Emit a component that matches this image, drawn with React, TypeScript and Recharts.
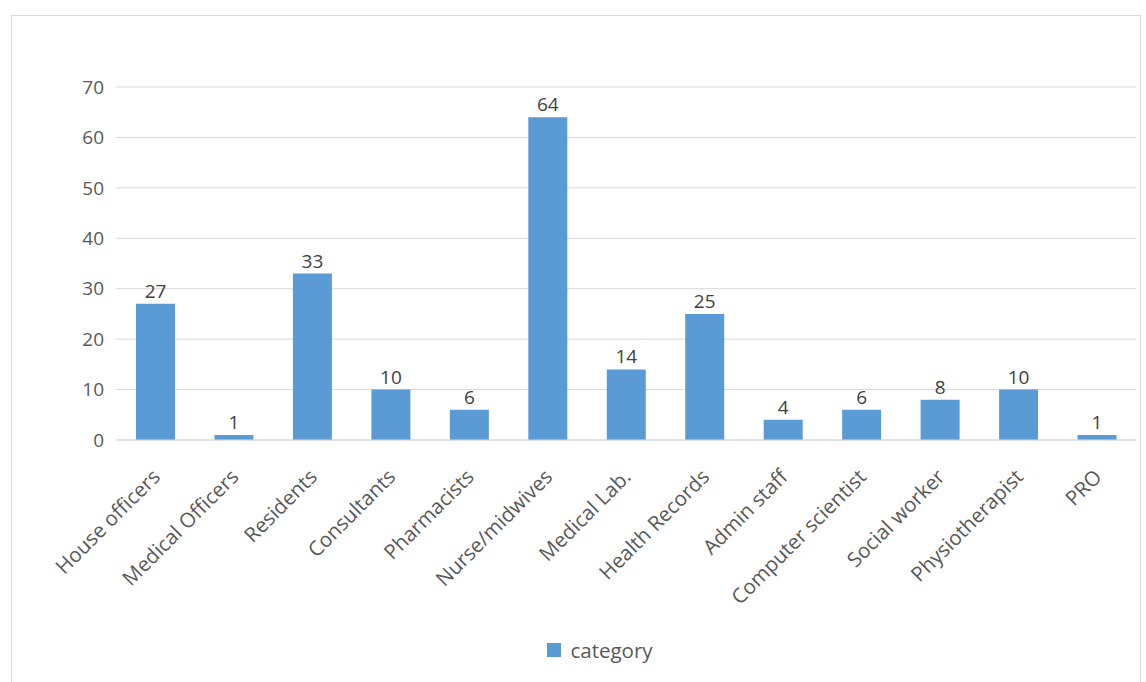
import React from "react";
import {
  BarChart,
  Bar,
  XAxis,
  YAxis,
  CartesianGrid,
  Legend,
  LabelList,
} from "recharts";

const categories = [
  "House officers",
  "Medical Officers",
  "Residents",
  "Consultants",
  "Pharmacists",
  "Nurse/midwives",
  "Medical Lab.",
  "Health Records",
  "Admin staff",
  "Computer scientist",
  "Social worker",
  "Physiotherapist",
  "PRO",
];
const counts = [27, 1, 33, 10, 6, 64, 14, 25, 4, 6, 8, 10, 1];
const yTicks = [0, 10, 20, 30, 40, 50, 60, 70];

const data = categories.map((name, i) => ({ name, category: counts[i] }));

const FONT = "'Open Sans', 'Noto Sans', sans-serif";

const RotatedTick = (props: any) => {
  const { x, y, payload } = props;
  return (
    <g transform={`translate(${x - 4},${y + 20})`}>
      <text
        x={0}
        y={0}
        dy="0.7em"
        textAnchor="end"
        transform="rotate(-45)"
        fill="#595959"
        fontSize={20.5}
        fontFamily={FONT}
      >
        {payload.value}
      </text>
    </g>
  );
};

const LegendContent = () => (
  <div
    style={{
      display: "flex",
      justifyContent: "center",
      alignItems: "center",
      fontFamily: FONT,
      fontSize: 20.5,
      color: "#595959",
      paddingLeft: 8,
    }}
  >
    <span
      style={{
        display: "inline-block",
        width: 14,
        height: 14,
        background: "#5b9bd5",
        marginRight: 9,
      }}
    />
    category
  </div>
);

export default function App() {
  return (
    <div
      style={{
        position: "absolute",
        left: 0,
        top: 0,
        width: 1146,
        height: 682,
        background: "#fff",
        overflow: "hidden",
      }}
    >
      <div
        style={{
          position: "absolute",
          left: 11,
          top: 15,
          width: 1128,
          height: 680,
          border: "1px solid #d9d9d9",
        }}
      />
      <BarChart
        width={1146}
        height={682}
        data={data}
        margin={{ top: 87, right: 10, left: 56, bottom: 4 }}
        style={{ position: "absolute", left: 0, top: 0 }}
      >
        <CartesianGrid vertical={false} stroke="#d9d9d9" />
        <XAxis
          dataKey="name"
          interval={0}
          height={196}
          axisLine={{ stroke: "#d9d9d9" }}
          tickLine={false}
          tick={<RotatedTick />}
        />
        <YAxis
          width={60}
          domain={[0, 70]}
          ticks={yTicks}
          axisLine={false}
          tickLine={false}
          tickMargin={6}
          tick={{ fill: "#595959", fontSize: 19, fontFamily: FONT }}
        />
        <Legend
          verticalAlign="bottom"
          height={42}
          content={<LegendContent />}
        />
        <Bar
          dataKey="category"
          fill="#5b9bd5"
          barSize={39}
          isAnimationActive={false}
        >
          <LabelList
            dataKey="category"
            position="top"
            offset={6}
            fill="#404040"
            fontSize={19}
            fontFamily={FONT}
          />
        </Bar>
      </BarChart>
    </div>
  );
}
